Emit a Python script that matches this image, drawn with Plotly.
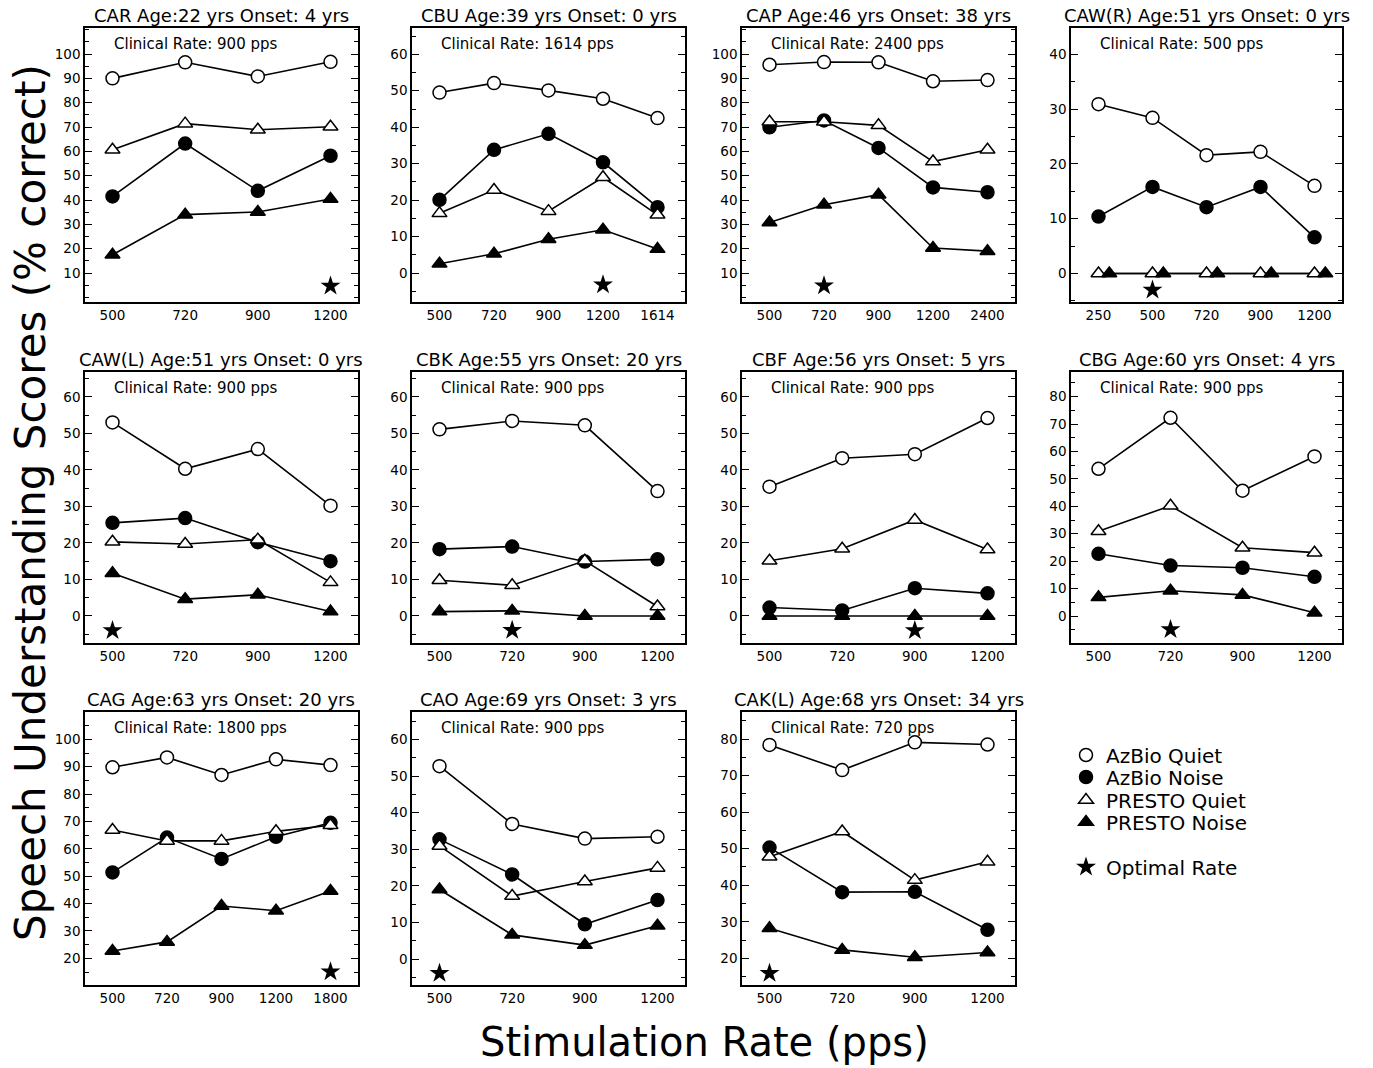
import plotly.graph_objects as go

# the page body margin is removed (see post_script), so the figure fills the window
OFF = 0
W, H = 1373, 1068


def px_x(p):
    return (p - OFF) / W


def px_y(p):
    return 1 - (p - OFF) / H


# ---------------- data ----------------
panel_ids = ["CAR", "CBU", "CAP", "CAW(R)", "CAW(L)", "CBK", "CBF", "CBG", "CAG", "CAO", "CAK(L)"]
ages = [22, 39, 46, 51, 51, 55, 56, 60, 63, 69, 68]
onsets = [4, 0, 38, 0, 0, 20, 5, 4, 20, 3, 34]
clinical_rates = [900, 1614, 2400, 500, 900, 900, 900, 900, 1800, 900, 720]

rates = [
    ["500", "720", "900", "1200"],
    ["500", "720", "900", "1200", "1614"],
    ["500", "720", "900", "1200", "2400"],
    ["250", "500", "720", "900", "1200"],
    ["500", "720", "900", "1200"],
    ["500", "720", "900", "1200"],
    ["500", "720", "900", "1200"],
    ["500", "720", "900", "1200"],
    ["500", "720", "900", "1200", "1800"],
    ["500", "720", "900", "1200"],
    ["500", "720", "900", "1200"],
]

azbio_quiet = [
    [90.0, 96.6, 90.8, 96.8],
    [49.5, 52.1, 50.1, 47.8, 42.5],
    [95.6, 96.7, 96.6, 88.8, 89.3],
    [30.9, 28.4, 21.6, 22.2, 16.0],
    [53.0, 40.3, 45.7, 30.2],
    [51.1, 53.4, 52.2, 34.2],
    [35.4, 43.2, 44.3, 54.2],
    [53.7, 72.3, 45.7, 58.2],
    [89.8, 93.4, 87.0, 92.7, 90.6],
    [52.7, 36.9, 32.9, 33.4],
    [78.4, 71.5, 79.1, 78.5],
]

azbio_noise = [
    [41.5, 63.2, 43.8, 58.2],
    [20.1, 33.8, 38.2, 30.4, 18.1],
    [69.9, 72.7, 61.4, 45.2, 43.2],
    [10.4, 15.8, 12.1, 15.8, 6.6],
    [25.5, 26.8, 20.2, 15.0],
    [18.3, 19.0, 14.9, 15.5],
    [2.3, 1.5, 7.6, 6.2],
    [22.7, 18.4, 17.6, 14.3],
    [51.4, 64.1, 56.3, 64.4, 69.5],
    [32.7, 23.1, 9.5, 16.1],
    [50.3, 38.1, 38.2, 27.8],
]

presto_quiet = [
    [60.7, 71.4, 68.9, 70.1],
    [16.4, 22.8, 17.0, 26.3, 16.0],
    [72.2, 72.2, 70.7, 55.8, 60.7],
    [0.0, 0.0, 0.0, 0.0, 0.0],
    [20.3, 19.7, 20.9, 9.2],
    [9.8, 8.4, 15.1, 2.6],
    [15.1, 18.4, 26.3, 18.2],
    [30.9, 40.2, 24.9, 23.1],
    [66.9, 62.9, 62.9, 66.4, 68.6],
    [30.9, 17.2, 21.2, 24.9],
    [47.8, 54.7, 41.4, 46.4],
]

presto_noise = [
    [17.5, 34.0, 35.1, 40.4],
    [2.6, 5.3, 9.3, 11.9, 6.6],
    [30.8, 38.1, 42.2, 20.3, 19.0],
    [0.0, 0.0, 0.0, 0.0, 0.0],
    [11.7, 4.6, 5.8, 1.2],
    [1.2, 1.4, 0.0, 0.0],
    [0.0, 0.0, 0.0, 0.0],
    [6.8, 9.2, 7.7, 1.2],
    [22.7, 26.0, 39.1, 37.4, 44.6],
    [19.0, 6.6, 3.8, 9.1],
    [28.2, 22.3, 20.3, 21.6],
]

optimal_rate = ["1200", "1200", "720", "500", "500", "720", "900", "720", "1800", "500", "500"]
optimal_level = [4.7, -3.2, 4.8, -3.0, -4.0, -3.9, -4.0, -4.9, 15.1, -3.9, 15.9]

y_ticks = [
    list(range(10, 101, 10)),
    list(range(0, 61, 10)),
    list(range(10, 101, 10)),
    list(range(0, 41, 10)),
    list(range(0, 61, 10)),
    list(range(0, 61, 10)),
    list(range(0, 61, 10)),
    list(range(0, 81, 10)),
    list(range(20, 101, 10)),
    list(range(0, 61, 10)),
    list(range(20, 81, 10)),
]
y_ranges = [
    [-1.9, 110.7], [-7.9, 67.2], [-1.9, 110.7], [-5.2, 44.8],
    [-7.4, 66.8], [-7.4, 66.8], [-7.4, 66.8], [-9.85, 89.0],
    [10.25, 110.0], [-7.1, 67.5], [12.7, 87.4],
]

# ---------------- layout geometry (screen pixels) ----------------
col_px = [(85, 358), (412, 685), (742, 1015), (1071, 1342)]
row_px = [(28, 302), (372, 643), (712, 985)]
# small horizontal shift used to separate overlapping symbols in one panel
overlap_shift = {"CAW(R)": 0.2}
legend_rows_px = [755, 777, 800, 822, 867]

FONT = "DejaVu Sans"
series = [
    ("AzBio Quiet", azbio_quiet, "circle", "white"),
    ("AzBio Noise", azbio_noise, "circle", "black"),
    ("PRESTO Quiet", presto_quiet, "triangle-up", "white"),
    ("PRESTO Noise", presto_noise, "triangle-up", "black"),
]
legend_names = ["legend", "legend2", "legend3", "legend4", "legend5"]

fig = go.Figure()
layout = dict(
    width=W, height=H,
    margin=dict(l=0, r=0, t=0, b=0),
    paper_bgcolor="white", plot_bgcolor="white",
    font=dict(family=FONT, color="black"),
    showlegend=True,
)
for j, ln in enumerate(legend_names):
    layout[ln] = dict(x=px_x(1066), y=px_y(legend_rows_px[j]), xanchor="left",
                      yanchor="middle", font=dict(size=20, family=FONT),
                      bgcolor="rgba(0,0,0,0)", itemclick=False, itemdoubleclick=False)
annotations = []

for i, pid in enumerate(panel_ids):
    r, c = divmod(i, 4)
    sfx = "" if i == 0 else str(i + 1)
    xa, ya = "x" + sfx, "y" + sfx
    x0, x1 = col_px[c]
    y0, y1 = row_px[r]
    n = len(rates[i])
    idx = list(range(n))
    spacing = (x1 - x0 - 55) / (n - 1)
    pad = 27.5 / spacing

    layout["xaxis" + sfx] = dict(
        domain=[px_x(x0), px_x(x1)], anchor=ya, range=[-pad, n - 1 + pad],
        tickmode="array", tickvals=idx, ticktext=rates[i], ticks="",
        showline=True, mirror=True, linecolor="black", linewidth=1.5,
        showgrid=False, zeroline=False, tickfont=dict(size=13.5, family=FONT),
    )
    layout["yaxis" + sfx] = dict(
        domain=[px_y(y1), px_y(y0)], anchor=xa, range=y_ranges[i],
        tickmode="array", tickvals=y_ticks[i], ticks="inside", ticklen=7,
        tickwidth=1.2, tickcolor="black",
        minor=dict(tickmode="linear", tick0=0, dtick=5, ticks="inside",
                   ticklen=4, tickwidth=1.2, tickcolor="black", showgrid=False),
        showline=True, mirror="ticks", linecolor="black", linewidth=1.5,
        showgrid=False, zeroline=False, tickfont=dict(size=13.5, family=FONT),
    )

    shift = overlap_shift.get(pid, 0.0)
    # lines first (under all markers)
    for k, (name, data, sym, fill) in enumerate(series):
        xs = [v + (shift if k == 3 else 0) for v in idx]
        fig.add_trace(go.Scatter(
            x=xs, y=data[i], mode="lines", xaxis=xa, yaxis=ya,
            line=dict(color="black", width=1.6), showlegend=False, hoverinfo="skip"))
    for k, (name, data, sym, fill) in enumerate(series):
        xs = [v + (shift if k == 3 else 0) for v in idx]
        fig.add_trace(go.Scatter(
            x=xs, y=data[i], mode="markers", xaxis=xa, yaxis=ya, name=name,
            marker=dict(symbol=sym, size=13, color=fill,
                        line=dict(color="black", width=1.5)),
            showlegend=(i == 0), legend=legend_names[k]))
    fig.add_trace(go.Scatter(
        x=[rates[i].index(optimal_rate[i])], y=[optimal_level[i]], mode="markers",
        xaxis=xa, yaxis=ya, name="Optimal Rate",
        marker=dict(symbol="star", size=15, color="black", line=dict(width=0)),
        showlegend=(i == 0), legend=legend_names[4]))

    dx = "x domain" if i == 0 else f"x{i + 1} domain"
    dy = "y domain" if i == 0 else f"y{i + 1} domain"
    annotations.append(dict(
        text=f"{pid} Age:{ages[i]} yrs Onset: {onsets[i]} yrs",
        xref=dx, yref=dy, x=0.5, y=1.0, xanchor="center", yanchor="bottom", yshift=0,
        showarrow=False, font=dict(size=18, family=FONT)))
    annotations.append(dict(
        text=f"Clinical Rate: {clinical_rates[i]} pps",
        xref=dx, yref=dy, x=27 / 273, y=1 - 16 / 273, xanchor="left", yanchor="middle",
        showarrow=False, font=dict(size=15, family=FONT)))

annotations.append(dict(
    text="Stimulation Rate (pps)", xref="paper", yref="paper",
    x=px_x(704), y=px_y(1042), xanchor="center", yanchor="middle",
    showarrow=False, font=dict(size=40, family=FONT)))
annotations.append(dict(
    text="Speech Understanding Scores (% correct)", xref="paper", yref="paper",
    x=px_x(30), y=px_y(503), xanchor="center", yanchor="middle", textangle=-90,
    showarrow=False, font=dict(size=42, family=FONT)))

layout["annotations"] = annotations
fig.update_layout(**layout)
fig.write_html(
    "out.html",
    config={"displayModeBar": False},
    post_script="document.body.style.margin='0px';document.body.style.overflow='hidden';",
)
